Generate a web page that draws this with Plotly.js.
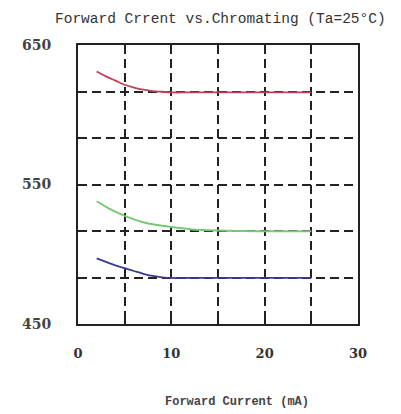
<!DOCTYPE html>
<html><head><meta charset="utf-8">
<script src="https://cdn.plot.ly/plotly-3.0.1.min.js"></script>
<style>html,body{margin:0;padding:0;background:#fff}</style>
</head><body>
<div id="chart" style="width:401px;height:414px"></div>
<script>
var current = [2, 3, 4, 5, 6, 7, 8, 9, 10, 12, 15, 20, 25];
var redWave = [631, 627.5, 624.5, 621.5, 619.5, 618, 617, 616.5, 616, 616, 616, 616, 616];
var greenWave = [538, 534, 530.5, 527.5, 525, 523, 521.5, 520.5, 519.5, 518, 517, 516.5, 516.5];
var blueWave = [497, 494.5, 492, 490, 488, 486, 484.5, 483.5, 483, 483, 483, 483, 483];
var xTicks = [0, 10, 20, 30];
var yTicks = [450, 550, 650];

var traces = [
  {x: current, y: redWave, mode: 'lines', line: {color: '#c0405a', width: 1.8, shape: 'spline'}},
  {x: current, y: greenWave, mode: 'lines', line: {color: '#78c878', width: 2, shape: 'spline'}},
  {x: current, y: blueWave, mode: 'lines', line: {color: '#3a3a8c', width: 1.8, shape: 'spline'}}
];

var gridStyle = {gridcolor: '#222', gridwidth: 2, griddash: '9px,5px'};
var layout = {
  width: 401, height: 414,
  margin: {l: 78, r: 43, t: 45, b: 90},
  paper_bgcolor: '#fff', plot_bgcolor: '#fff',
  showlegend: false,
  title: {text: 'Forward Crrent vs.Chromating (Ta=25°C)', font: {family: 'Liberation Mono', size: 14.5, color: '#333'},
          xref: 'container', yref: 'container', x: 55/401, xanchor: 'left', y: 1 - 18/414, yanchor: 'middle'},
  xaxis: Object.assign({
    range: [0, 30], tickvals: xTicks, ticktext: xTicks.map(String),
    showline: true, linecolor: '#222', linewidth: 2, mirror: 'ticks',
    ticks: 'inside', ticklen: 4, tickcolor: '#222', tickwidth: 2,
    showgrid: true, zeroline: false,
    ticklabelstandoff: 16,
    tickfont: {family: 'DejaVu Serif', size: 13, color: '#333', weight: 'bold'},
    minor: {dtick: 5, tick0: 0, showgrid: true, gridcolor: '#222', gridwidth: 2, griddash: '9px,5px', ticks: 'inside', ticklen: 4, tickcolor: '#222', tickwidth: 2}
  }, gridStyle),
  yaxis: Object.assign({
    range: [450, 650], tickvals: yTicks, ticktext: yTicks.map(String),
    showline: true, linecolor: '#222', linewidth: 2, mirror: true,
    ticks: '', showgrid: true, zeroline: false,
    ticklabelstandoff: 22,
    tickfont: {family: 'DejaVu Serif', size: 14, color: '#444', weight: 'bold'},
    minor: {dtick: 200/6, tick0: 450, showgrid: true, gridcolor: '#222', gridwidth: 2, griddash: '9px,5px'}
  }, gridStyle),
  annotations: [{
    text: 'Forward Current (mA)', xref: 'paper', yref: 'paper',
    x: (237 - 78) / 280, y: -78/279, xanchor: 'center', yanchor: 'middle', showarrow: false,
    font: {family: 'Liberation Mono', size: 12, color: '#444', weight: 'bold'}
  }]
};
Plotly.newPlot('chart', traces, layout, {displayModeBar: false, staticPlot: true});
</script>
</body></html>
